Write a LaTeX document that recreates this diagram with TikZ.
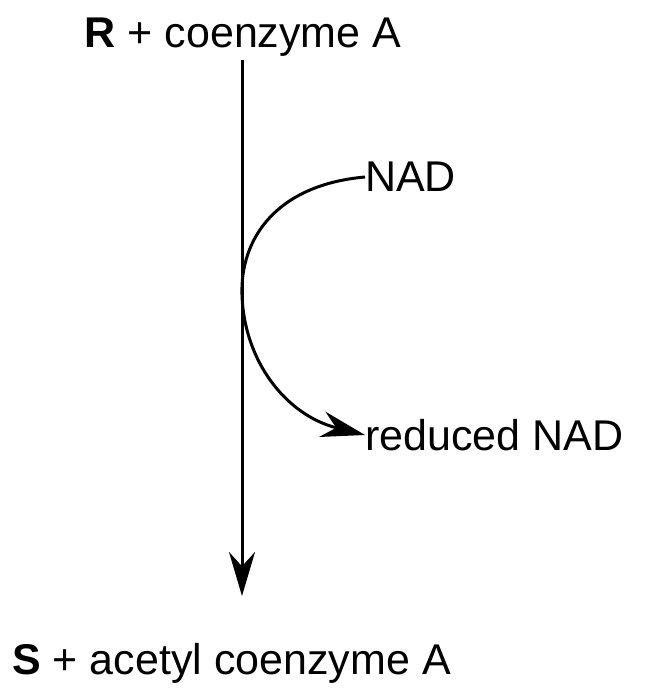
\documentclass[tikz,border=0pt]{standalone}
\usepackage{fontspec}
\setmainfont{Liberation Sans}
\usetikzlibrary{arrows.meta}
\begin{document}
\begin{tikzpicture}[x=1pt,y=-1pt,
  lbl/.style={font=\fontsize{43}{50}\selectfont, inner sep=0pt},
  conn/.style={line width=3pt, -{Stealth[length=44pt,width=26pt]}}]
\useasboundingbox (0,0) rectangle (650,700);
\node[lbl] (top) at (243,37) {\textbf{R} + coenzyme A};
\node[lbl, anchor=west] (bot) at (12,663) {\textbf{S} + acetyl coenzyme A};
\node[lbl, anchor=west] (nad) at (365,177) {NAD};
\node[lbl, anchor=west] (red) at (365,435) {reduced NAD};
\coordinate (ts) at (242,60);
\coordinate (te) at (242,596);
\coordinate (mid) at (242,295);
\draw[conn] (ts) -- (te);
\draw[conn] (nad.west) .. controls (275,185) and (240,240) .. (mid)
  .. controls (244,360) and (285,415) .. (red.west);
\end{tikzpicture}
\end{document}
